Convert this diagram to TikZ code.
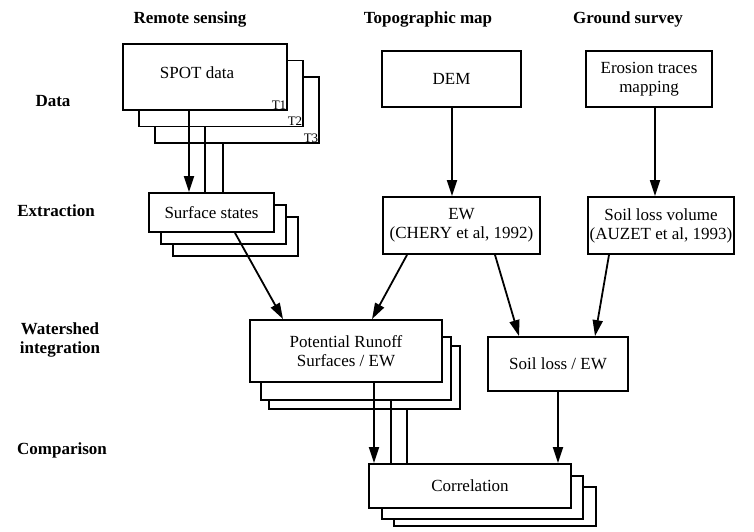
\documentclass[tikz,border=0pt]{standalone}
\usepackage{fontspec}
\setmainfont{Liberation Serif}
\usetikzlibrary{arrows.meta,calc}

% rectangle node given by its corners (x1,y1) and (x2,y2)
\newcommand\stackbox[5]{%
  \node[box, minimum width={(#4-#2)*1pt}, minimum height={(#5-#3)*1pt}]
    (#1) at ({(#2+#4)/2},{(#3+#5)/2}) {};}

\begin{document}
\begin{tikzpicture}[x=1pt,y=-1pt,
  box/.style={draw, line width=1.8pt, fill=white, inner sep=0pt},
  txt/.style={font=\fontsize{17}{19}\selectfont, align=center, inner sep=0pt},
  hdr/.style={font=\fontsize{17}{19}\selectfont\bfseries, align=center, inner sep=0pt},
  tag/.style={font=\fontsize{13}{14}\selectfont, inner sep=1.5pt, anchor=south east},
  arr/.style={line width=1.8pt, -{Triangle[length=16pt,width=10pt]}},
  link/.style={line width=1.8pt}]

\useasboundingbox (0,0) rectangle (754,531);

% column headers
\node[hdr] (hrs) at (190,19) {Remote sensing};
\node[hdr] (htm) at (428,19) {Topographic map};
\node[hdr] (hgs) at (628,19) {Ground survey};

% row labels
\node[hdr] (ldata) at (53,101) {Data};
\node[hdr] (lext) at (56,211) {Extraction};
\node[hdr] (lws) at (60,340) {Watershed\\integration};
\node[hdr] (lcmp) at (62,450) {Comparison};

% ---- data row
\stackbox{spot3}{155}{77}{319}{143}
\stackbox{spot2}{139}{60.5}{303}{126.5}
\stackbox{spot1}{123}{44}{287}{110}
\node[txt] (spottxt) at (197,73) {SPOT data};
\node[tag] (tone) at (spot1.south east) {T1};
\node[tag] (ttwo) at (spot2.south east) {T2};
\node[tag] (tthree) at (spot3.south east) {T3};

\stackbox{dem}{382}{51}{521}{107}
\node[txt] (demtxt) at (dem) {DEM};

\stackbox{ero}{586}{51}{712}{107}
\node[txt] (erotxt) at (ero) {Erosion traces\\mapping};

% ---- extraction row
\stackbox{ss3}{173}{217}{298}{256}
\stackbox{ss2}{161}{205}{286}{244}
\stackbox{ss1}{149}{193}{274}{232}
\node[txt] (sstxt) at (ss1) {Surface states};

\stackbox{ew}{383}{197}{540}{254}
\node[txt] (ewtxt) at (ew) {EW\\(CHERY et al, 1992)};

\stackbox{slv}{588}{197}{734}{254}
\node[txt] (slvtxt) at (slv) {Soil loss volume\\(AUZET et al, 1993)};

% ---- watershed integration row
\stackbox{pr3}{269}{346}{460}{409}
\stackbox{pr2}{261}{337}{451}{400}
\stackbox{pr1}{250}{320}{442}{382}
\node[txt] (prtxt) at (pr1) {Potential Runoff\\Surfaces / EW};

\stackbox{slew}{488}{337}{628}{391}
\node[txt] (slewtxt) at (slew) {Soil loss / EW};

% ---- comparison row
\stackbox{co3}{394}{487}{596}{526}
\stackbox{co2}{382}{476}{583}{519}
\stackbox{co1}{369}{464}{571}{508}
\node[txt] (cotxt) at (co1) {Correlation};

% tap positions for the stacked images
\coordinate (xa) at (189,0);
\coordinate (xb) at (205,0);
\coordinate (xc) at (223,0);
\coordinate (xd) at (374,0);
\coordinate (xe) at (391,0);
\coordinate (xf) at (407,0);
\coordinate (xg) at (452,0);
\coordinate (xh) at (655,0);
\coordinate (xi) at (558,0);

% connectors
\draw[arr]  (spot1.south -| xa) -- (ss1.north -| xa);
\draw[link] (spot2.south -| xb) -- (ss1.north -| xb);
\draw[link] (spot3.south -| xc) -- (ss1.north -| xc);

\draw[arr] (dem.south -| xg) -- (ew.north -| xg);
\draw[arr] (ero.south -| xh) -- (slv.north -| xh);

\draw[arr] ($(ss1.south)+(23.5,0)$) -- ($(pr1.north)+(-63,0)$);
\draw[arr] ($(ew.south)+(-54.5,0)$) -- ($(pr1.north)+(26,0)$);
\draw[arr] ($(ew.south)+(33.5,0)$) -- ($(slew.north)+(-39,0)$);
\draw[arr] ($(slv.south)+(-52,0)$) -- ($(slew.north)+(37,0)$);

\draw[arr]  (pr1.south -| xd) -- (co1.north -| xd);
\draw[link] (pr2.south -| xe) -- (co1.north -| xe);
\draw[link] (pr3.south -| xf) -- (co1.north -| xf);
\draw[arr]  (slew.south -| xi) -- (co1.north -| xi);
\end{tikzpicture}
\end{document}
